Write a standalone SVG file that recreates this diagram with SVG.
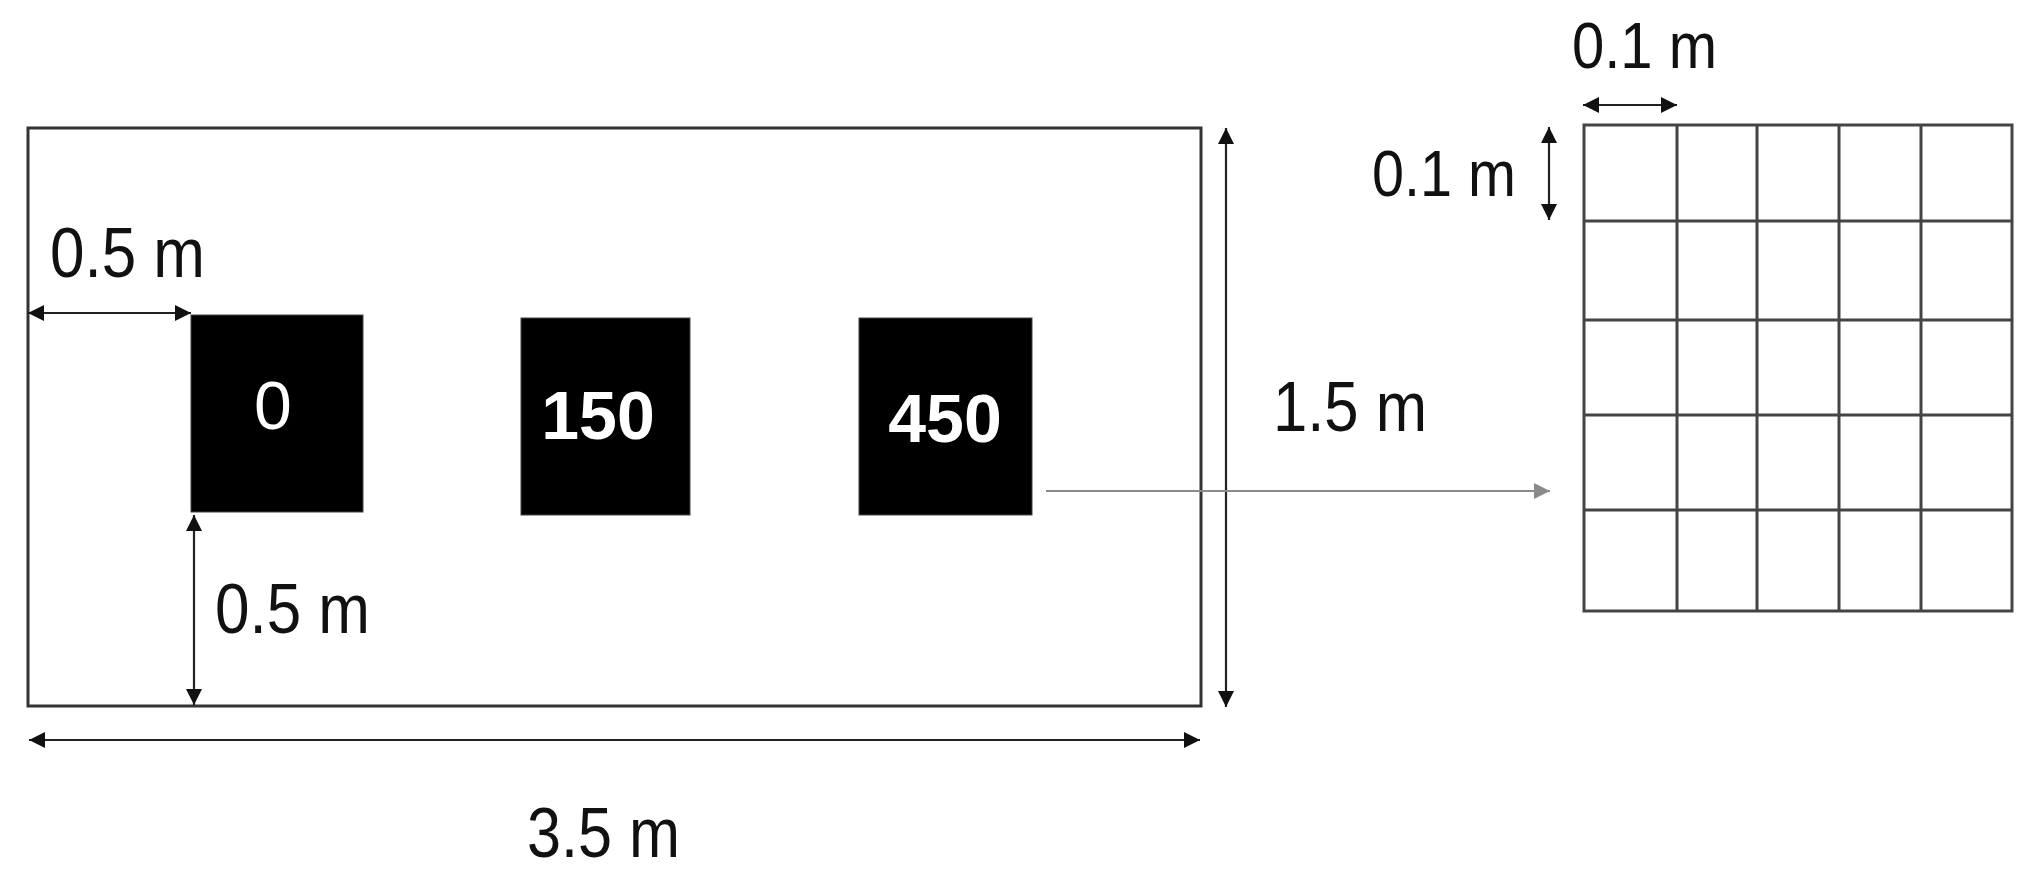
<svg xmlns="http://www.w3.org/2000/svg" width="2038" height="881" viewBox="0 0 2038 881">
  <style>
    .dim { font-family: "Liberation Sans", Arial, sans-serif; font-size: 70px; fill: #111; }
    .dims { font-family: "Liberation Sans", Arial, sans-serif; font-size: 64px; fill: #111; }
    .val { font-family: "Liberation Sans", Arial, sans-serif; font-size: 68px; font-weight: bold; fill: #fff; text-anchor: middle; }
    .val0 { font-family: "Liberation Sans", Arial, sans-serif; font-size: 68px; fill: #fff; text-anchor: middle; }
    .frame { fill: none; stroke: #333; stroke-width: 3; }
    .grid { fill: none; stroke: #444; stroke-width: 3; }
    .src { fill: #000; stroke: #444; stroke-width: 1; }
    .dl { stroke: #222; stroke-width: 2.2; fill: none; marker-start: url(#ah); marker-end: url(#ah); }
    .gl { stroke: #8a8a8a; stroke-width: 2.2; fill: none; marker-end: url(#ahg); }
  </style>
  <defs>
    <marker id="ah" viewBox="0 0 10 10" refX="10" refY="5" markerUnits="userSpaceOnUse" markerWidth="17" markerHeight="16" orient="auto-start-reverse">
      <path d="M0,0 L10,5 L0,10 z" fill="#111"/>
    </marker>
    <marker id="ahg" viewBox="0 0 10 10" refX="10" refY="5" markerUnits="userSpaceOnUse" markerWidth="17" markerHeight="16" orient="auto">
      <path d="M0,0 L10,5 L0,10 z" fill="#8a8a8a"/>
    </marker>
  </defs>
  <rect width="2038" height="881" fill="#fff"/>

  <g id="domain">
    <rect class="frame" x="28" y="128" width="1173" height="578"/>
  </g>

  <g id="source-0">
    <rect class="src" x="191" y="315" width="172" height="197"/>
    <text class="val0" x="273" y="429">0</text>
  </g>
  <g id="source-150">
    <rect class="src" x="521" y="318" width="169" height="197"/>
    <text class="val" x="598" y="439">150</text>
  </g>
  <g id="source-450">
    <rect class="src" x="859" y="318" width="173" height="197"/>
    <text class="val" x="945" y="442">450</text>
  </g>

  <g id="mesh">
    <rect class="grid" x="1584" y="125" width="428" height="486"/>
    <line class="grid" x1="1677" y1="125" x2="1677" y2="611"/>
    <line class="grid" x1="1757" y1="125" x2="1757" y2="611"/>
    <line class="grid" x1="1839" y1="125" x2="1839" y2="611"/>
    <line class="grid" x1="1921" y1="125" x2="1921" y2="611"/>
    <line class="grid" x1="1584" y1="221" x2="2012" y2="221"/>
    <line class="grid" x1="1584" y1="320" x2="2012" y2="320"/>
    <line class="grid" x1="1584" y1="415" x2="2012" y2="415"/>
    <line class="grid" x1="1584" y1="510" x2="2012" y2="510"/>
  </g>

  <g id="connectors">
    <line class="dl" x1="28" y1="313" x2="191" y2="313"/>
    <line class="dl" x1="194" y1="515" x2="194" y2="705"/>
    <line class="dl" x1="29" y1="740" x2="1200" y2="740"/>
    <line class="dl" x1="1226" y1="128" x2="1226" y2="707"/>
    <line class="dl" x1="1583" y1="105" x2="1677" y2="105"/>
    <line class="dl" x1="1549" y1="127" x2="1549" y2="220"/>
    <line class="gl" x1="1046" y1="491" x2="1550" y2="491"/>
  </g>

  <g id="labels">
    <text class="dim" x="50" y="277" textLength="155" lengthAdjust="spacingAndGlyphs">0.5 m</text>
    <text class="dim" x="215" y="633" textLength="155" lengthAdjust="spacingAndGlyphs">0.5 m</text>
    <text class="dim" x="527" y="857" textLength="153" lengthAdjust="spacingAndGlyphs">3.5 m</text>
    <text class="dim" x="1273" y="431" textLength="154" lengthAdjust="spacingAndGlyphs">1.5 m</text>
    <text class="dims" x="1372" y="196" textLength="144" lengthAdjust="spacingAndGlyphs">0.1 m</text>
    <text class="dims" x="1572" y="68" textLength="145" lengthAdjust="spacingAndGlyphs">0.1 m</text>
  </g>
</svg>
